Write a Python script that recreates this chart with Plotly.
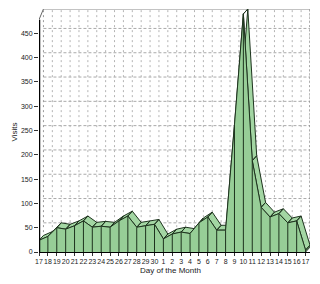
import plotly.graph_objects as go

days = ["17","18","19","20","21","22","23","24","25","26","27","28","29","30",
        "1","2","3","4","5","6","7","8","9","10","11","12","13","14","15","16","17"]
visits = [24, 32, 50, 47, 54, 64, 51, 53, 51, 64, 74, 51, 54, 57,
          27, 37, 41, 38, 60, 72, 45, 45, 262, 490, 188, 92, 72, 79, 60, 64, 4]
y_ticks = [0, 50, 100, 150, 200, 250, 300, 350, 400, 450]

# 3D depth offset expressed in axis units
OX = 0.5
OY = 10
XMAX = len(days) - 1 + OX
YMAX = 500

FACE = "#97CE97"
TOP = "#A3D6A3"
EDGE = "#1E331E"

xs = list(range(len(days)))
fig = go.Figure()

# top ribbons (front edge -> back edge)
rx, ry = [], []
for i in range(len(xs) - 1):
    rx += [xs[i], xs[i+1], xs[i+1] + OX, xs[i] + OX, xs[i], None]
    ry += [visits[i], visits[i+1], visits[i+1] + OY, visits[i] + OY, visits[i], None]
# right side face
n = len(xs) - 1
rx += [xs[n], xs[n] + OX, xs[n] + OX, xs[n], xs[n]]
ry += [0, OY, visits[n] + OY, visits[n], 0]
fig.add_trace(go.Scatter(x=rx, y=ry, mode="lines", fill="toself", fillcolor=TOP,
                         line=dict(color=EDGE, width=1), hoverinfo="skip"))

# front face
fig.add_trace(go.Scatter(x=xs, y=visits, mode="lines", fill="tozeroy", fillcolor=FACE,
                         line=dict(color=EDGE, width=1), hoverinfo="skip"))

# vertical dividers on front face
vx, vy = [], []
for i in xs:
    vx += [i, i, None]
    vy += [0, visits[i], None]
fig.add_trace(go.Scatter(x=vx, y=vy, mode="lines", line=dict(color=EDGE, width=1),
                         hoverinfo="skip"))

shapes = []
# back-plane grid
for v in y_ticks[1:]:
    shapes.append(dict(type="line", xref="x", yref="y", x0=OX, x1=XMAX, y0=v + OY, y1=v + OY,
                       line=dict(color="#AAAAAA", width=1, dash="3px,2px"), layer="below"))
for i in xs[1:]:
    shapes.append(dict(type="line", xref="x", yref="y", x0=i + OX, x1=i + OX, y0=OY, y1=YMAX,
                       line=dict(color="#B4B4B4", width=1, dash="2px,3px"), layer="below"))
# frame
shapes.append(dict(type="line", xref="x", yref="y", x0=XMAX, x1=XMAX, y0=OY, y1=YMAX,
                   line=dict(color="#777777", width=1, dash="2px,2px"), layer="below"))
shapes.append(dict(type="line", xref="x", yref="y", x0=OX, x1=XMAX, y0=YMAX, y1=YMAX,
                   line=dict(color="#888888", width=1), layer="below"))
shapes.append(dict(type="line", xref="x", yref="y", x0=0, x1=OX, y0=YMAX - 22, y1=YMAX,
                   line=dict(color="#666666", width=1), layer="below"))
shapes.append(dict(type="line", xref="x", yref="y", x0=OX, x1=OX, y0=OY, y1=YMAX,
                   line=dict(color="#999999", width=1, dash="2px,3px"), layer="below"))
# thick front y axis
shapes.append(dict(type="line", xref="x", yref="y", x0=0, x1=0, y0=0, y1=YMAX - 22,
                   line=dict(color="#000000", width=2.5), layer="above"))

font = dict(family="Liberation Sans, Arial, sans-serif", size=7, color="#222222")

fig.update_layout(
    width=320, height=284,
    margin=dict(l=39, r=10, t=9, b=32),
    paper_bgcolor="white", plot_bgcolor="white",
    showlegend=False,
    font=font,
    shapes=shapes,
    xaxis=dict(range=[0, XMAX], tickmode="array", tickvals=xs, ticktext=days,
               showgrid=False, zeroline=False, showline=True, linecolor="#000000", linewidth=1,
               ticks="outside", ticklen=3, tickcolor="#333333", tickangle=0,
               tickfont=font, fixedrange=True),
    yaxis=dict(range=[0, YMAX], tickmode="array", tickvals=y_ticks,
               showgrid=False, zeroline=False, showline=False,
               ticks="outside", ticklen=4, tickcolor="#333333",
               tickfont=font, fixedrange=True),
    annotations=[
        dict(text="Day of the Month", xref="paper", yref="paper", x=0.487, y=-0.077,
             xanchor="center", yanchor="middle", showarrow=False,
             font=dict(family="Liberation Sans, Arial, sans-serif", size=8, color="#222222")),
        dict(text="Visits", xref="paper", yref="paper", x=-0.087, y=0.494,
             xanchor="center", yanchor="middle", showarrow=False, textangle=-90,
             font=dict(family="Liberation Sans, Arial, sans-serif", size=8, color="#222222")),
    ],
)

fig.write_html("out.html")
